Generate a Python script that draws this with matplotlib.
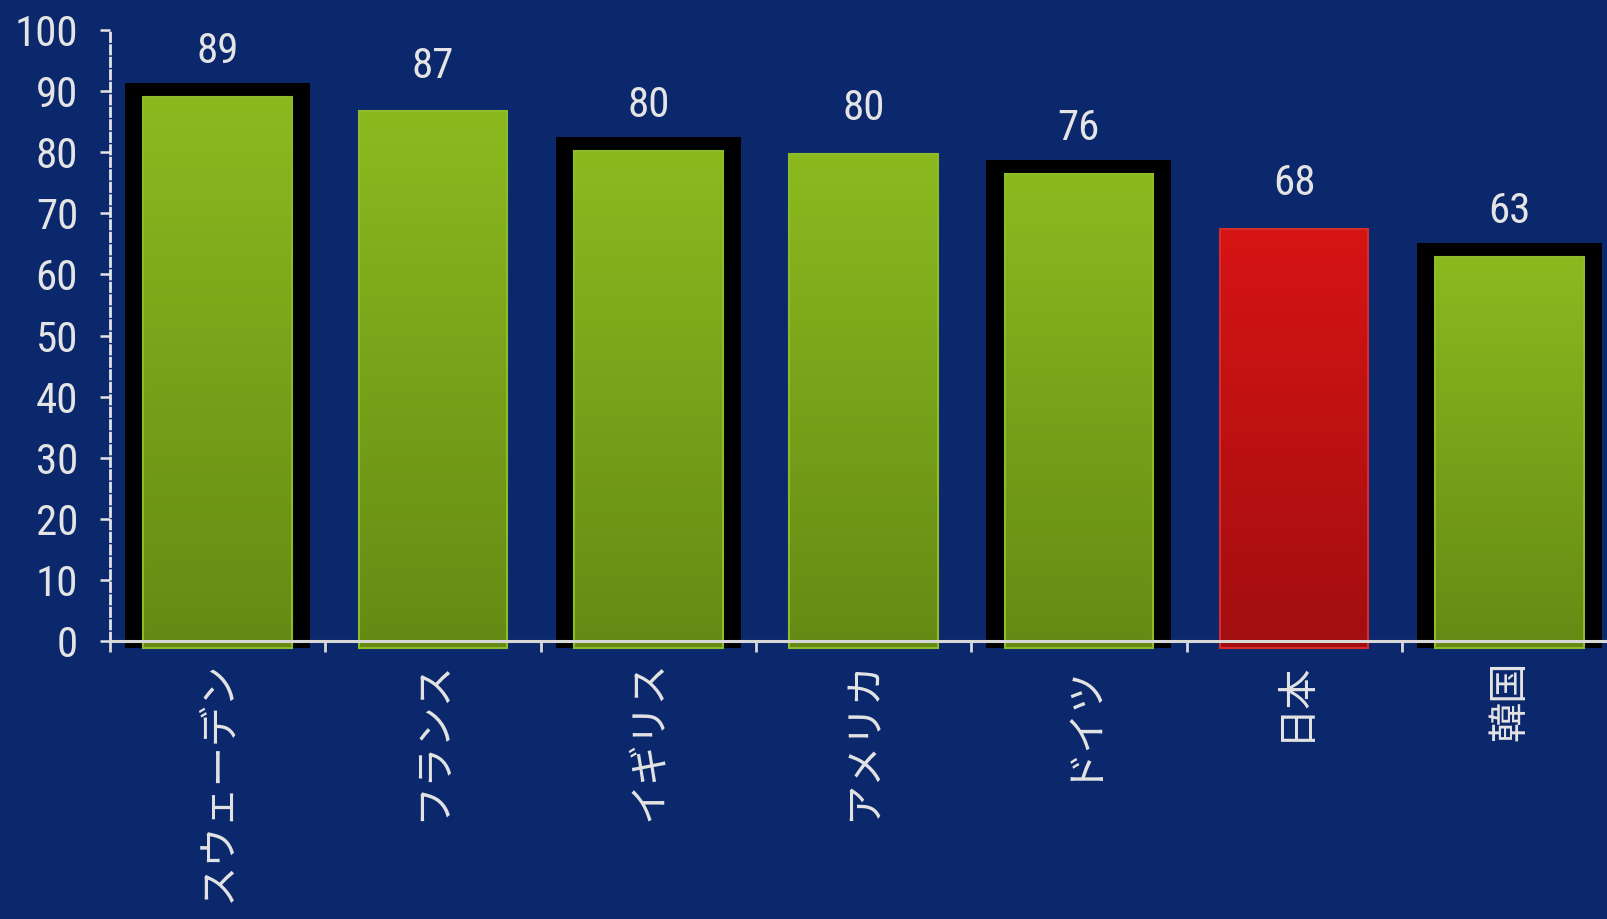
import matplotlib
matplotlib.use("Agg")
import matplotlib.pyplot as plt
import numpy as np
from matplotlib import font_manager
from matplotlib.colors import to_rgb

# data
countries = ['スウェーデン', 'フランス', 'イギリス', 'アメリカ', 'ドイツ', '日本', '韓国']
values = [89.0, 86.7, 80.2, 79.7, 76.4, 67.5, 62.9]
labels = ['89', '87', '80', '80', '76', '68', '63']
framed = [True, False, True, False, True, False, True]
highlight = [False, False, False, False, False, True, False]
yticks = list(range(0, 101, 10))

bg = '#0B286D'
txt = '#E4E4E4'
green = ('#8BBA1F', '#658A14', '#8DBB2A')   # top, bottom, edge
red = ('#D71414', '#A20E10', '#D42C2C')

names = {f.name for f in font_manager.fontManager.ttflist}
narrow = ['Roboto Condensed', 'Liberation Sans Narrow', 'DejaVu Sans Condensed',
          'Open Sans Condensed', 'Noto Sans Condensed']
num_font = next((n for n in narrow if n in names), 'DejaVu Sans')
plt.rcParams['font.family'] = [num_font, 'Noto Sans CJK JP', 'DejaVu Sans']

fig = plt.figure(figsize=(16.08, 9.19), dpi=100, facecolor=bg)
ax = fig.add_axes([110/1608, 1 - 641/919, 1 - 110/1608, (641 - 30)/919])
ax.set_facecolor(bg)

x = np.arange(len(countries))
base = -1.1  # bars run a little below the zero line

# black frames behind some bars
for xi, v, f in zip(x, values, framed):
    if f:
        ax.bar(xi, v + 2.3 - base, bottom=base, width=0.86, color='black',
               zorder=1, clip_on=False)

def grad(c1, c2):
    a, b = np.array(to_rgb(c1)), np.array(to_rgb(c2))
    t = np.linspace(0, 1, 256)[:, None, None]
    return a + (b - a) * t

bars = ax.bar(x, [v - base for v in values], bottom=base, width=0.69,
              facecolor='none', zorder=3, clip_on=False)
for b, v, h in zip(bars, values, highlight):
    top, bot, edge = red if h else green
    b.set_edgecolor(edge)
    b.set_linewidth(1.5)
    im = ax.imshow(grad(top, bot), extent=(b.get_x(), b.get_x() + b.get_width(), base, v),
                   aspect='auto', origin='upper', zorder=2)
    im.set_clip_path(b)

for xi, v, lab in zip(x, values, labels):
    ax.text(xi, v + 7.4, lab, ha='center', va='center', color=txt, fontsize=31, zorder=5)

ax.set_xlim(-0.5, -0.5 + 1498/215.3)
ax.set_ylim(0, 100)

# axes styling
for s in ['top', 'right']:
    ax.spines[s].set_visible(False)
ax.spines['left'].set_color(txt)
ax.spines['left'].set_linestyle((0, (3, 1.5)))
ax.spines['left'].set_linewidth(2)
ax.spines['bottom'].set_color('#D8D8D8')
ax.spines['bottom'].set_linewidth(2.2)
ax.spines['bottom'].set_zorder(6)

ax.set_yticks(yticks)
ax.tick_params(axis='y', colors=txt, labelsize=31, length=7, width=1.8, pad=16)

ax.set_xticks(x)
ax.set_xticklabels(countries, rotation=90, va='top', ha='center',
                   family=['Noto Sans CJK JP', 'DejaVu Sans'])
ax.tick_params(axis='x', which='major', length=0, colors=txt, labelsize=29, pad=14)
ax.set_xticks(np.arange(-0.5, len(countries) - 0.5), minor=True)
ax.tick_params(axis='x', which='minor', length=8, width=2, color='#D8D8D8', direction='out')

fig.savefig('out.png', facecolor=bg)
